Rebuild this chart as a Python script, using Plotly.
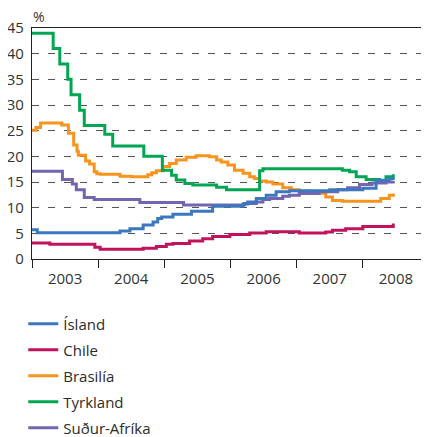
import plotly.graph_objects as go

# Data (decimal years, % values); step changes
island_x = [2003.00, 2003.08, 2004.33, 2004.48, 2004.68, 2004.83, 2004.90, 2004.96, 2005.13, 2005.41,
            2005.73, 2006.19, 2006.26, 2006.39, 2006.54, 2006.69, 2006.89, 2007.50, 2008.00, 2008.20,
            2008.40, 2008.46]
island_y = [5.7, 5.1, 5.45, 5.9, 6.6, 7.2, 7.9, 8.2, 8.7, 9.3,
            10.3, 10.7, 11.1, 11.8, 12.4, 13.1, 13.3, 13.5, 13.8, 15.35,
            15.7, 15.8]

chile_x = [2003.00, 2003.27, 2003.95, 2004.03, 2004.68, 2004.88, 2005.03, 2005.13, 2005.38, 2005.58,
           2005.73, 2005.99, 2006.29, 2006.54, 2007.04, 2007.44, 2007.54, 2007.74, 2008.00, 2008.40,
           2008.46]
chile_y = [3.1, 2.85, 2.3, 1.9, 2.1, 2.45, 2.85, 3.0, 3.5, 3.95,
           4.4, 4.75, 5.05, 5.3, 5.05, 5.25, 5.6, 5.9, 6.35, 6.35,
           6.9]

brasilia_x = [2003.00, 2003.06, 2003.13, 2003.45, 2003.55, 2003.63, 2003.68, 2003.70, 2003.81, 2003.87,
              2003.94, 2003.98, 2004.03, 2004.33, 2004.50, 2004.75, 2004.81, 2004.88, 2004.98, 2005.08,
              2005.18, 2005.33, 2005.48, 2005.68, 2005.79, 2005.86, 2005.96, 2006.06, 2006.19, 2006.29,
              2006.36, 2006.44, 2006.54, 2006.64, 2006.79, 2006.92, 2007.04, 2007.24, 2007.44, 2007.54,
              2007.69, 2008.27, 2008.40, 2008.46]
brasilia_y = [25.1, 25.6, 26.5, 26.1, 24.5, 22.2, 21.0, 20.2, 19.1, 18.5,
              17.0, 16.6, 16.5, 16.1, 16.0, 16.4, 16.8, 17.2, 18.0, 18.6,
              19.3, 19.8, 20.1, 19.9, 19.3, 18.9, 18.3, 17.3, 16.7, 16.0,
              15.7, 15.2, 15.0, 14.6, 13.9, 13.5, 13.2, 12.8, 12.1, 11.4,
              11.25, 11.8, 12.4, 12.75]

tyrkland_x = [2003.00, 2003.32, 2003.42, 2003.54, 2003.59, 2003.72, 2003.79, 2004.10, 2004.22, 2004.69,
              2004.97, 2005.11, 2005.18, 2005.31, 2005.43, 2005.79, 2005.94, 2006.44, 2006.49, 2007.69,
              2007.80, 2007.90, 2008.05, 2008.25, 2008.35, 2008.46]
tyrkland_y = [44, 41, 38, 35, 32, 29, 26, 24.3, 22, 20,
              17.3, 16.3, 15.4, 14.7, 14.4, 14.0, 13.5, 17.2, 17.6, 17.3,
              17.0, 16.0, 15.5, 15.3, 16.0, 16.5]

sudur_x = [2003.00, 2003.46, 2003.61, 2003.67, 2003.79, 2003.94, 2004.63, 2005.29, 2006.21, 2006.39,
           2006.49, 2006.59, 2006.79, 2006.89, 2007.04, 2007.34, 2007.62, 2007.77, 2007.95, 2008.14,
           2008.35, 2008.46]
sudur_y = [17.1, 15.5, 14.6, 13.5, 12.0, 11.6, 11.0, 10.5, 10.8, 11.1,
           11.6, 11.8, 12.2, 12.4, 12.75, 13.1, 13.5, 13.9, 14.5, 14.8,
           15.0, 15.2]

names = ['Ísland', 'Chile', 'Brasilía', 'Tyrkland', 'Suður-Afríka']
colors = ['#3b78c0', '#c1125c', '#f7941e', '#00a651', '#7266b3']
series = [(island_x, island_y), (chile_x, chile_y), (brasilia_x, brasilia_y),
          (tyrkland_x, tyrkland_y), (sudur_x, sudur_y)]

years = [2003, 2004, 2005, 2006, 2007, 2008]
year_labels = [str(y) for y in years]

fig = go.Figure()
# draw order: later series on top, legend order kept
for i in [2, 3, 4, 0, 1]:
    xs, ys = series[i]
    fig.add_trace(go.Scatter(x=xs, y=ys, mode='lines', name=names[i],
                             line=dict(color=colors[i], width=3, shape='hv'),
                             legendrank=i + 1, legendgroup=names[i]))

# page body has an 8px margin, so the figure is 8px smaller than the window
fig.update_layout(
    width=421, height=429,
    margin=dict(l=24, r=0, t=20, b=178, autoexpand=False),
    paper_bgcolor='white', plot_bgcolor='white',
    font=dict(family='Open Sans', size=15, color='#333333'),
    showlegend=True,
    legend=dict(x=-0.022, y=-0.21, xanchor='left', yanchor='top',
                font=dict(size=15, color='#2b2b2b'), traceorder='grouped',
                itemwidth=30, tracegroupgap=3.5, bgcolor='rgba(0,0,0,0)'),
    annotations=[dict(text='%', x=0, y=1, xref='paper', yref='paper',
                      xanchor='left', yanchor='bottom', xshift=-1, yshift=0,
                      showarrow=False, font=dict(size=14, color='#333333'))],
)

fig.update_xaxes(
    range=[2003, 2009], showgrid=False, zeroline=False,
    showline=True, linecolor='#222222', linewidth=1.3, mirror=True,
    tickvals=[y + 0.5 for y in years], ticktext=year_labels,
    ticks='', ticklabelstandoff=6,
    minor=dict(tickvals=years + [2009], ticks='outside', ticklen=8,
               tickcolor='#222222', tickwidth=1, showgrid=False),
)
fig.update_yaxes(
    range=[0, 45], tickvals=list(range(0, 50, 5)), ticks='',
    showline=True, linecolor='#222222', linewidth=1.3, zeroline=False,
    showgrid=True, gridcolor='#555555', gridwidth=1, griddash='7px,9px',
    ticklabelstandoff=4,
)

fig.write_html('out.html')
